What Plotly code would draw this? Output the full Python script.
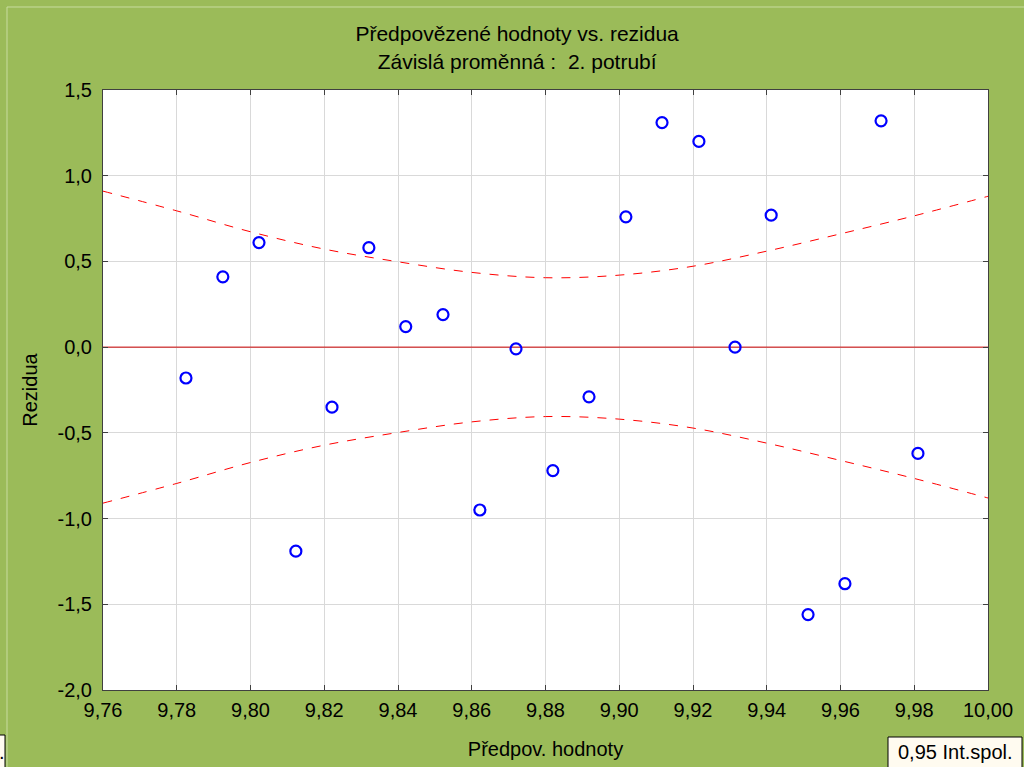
import plotly.graph_objects as go

# Data
pred = [9.7825, 9.7925, 9.8023, 9.8123, 9.8221, 9.8321, 9.8421, 9.8522, 9.8622, 9.8720,
        9.8820, 9.8918, 9.9018, 9.9116, 9.9216, 9.9314, 9.9412, 9.9512, 9.9612, 9.9710, 9.9810]
resid = [-0.18, 0.41, 0.61, -1.19, -0.35, 0.58, 0.12, 0.19, -0.95, -0.01,
         -0.72, -0.29, 0.76, 1.31, 1.20, 0.00, 0.77, -1.56, -1.38, 1.32, -0.62]

band_x = [9.76, 9.78, 9.80, 9.82, 9.84, 9.86, 9.88, 9.90, 9.92, 9.94, 9.96, 9.98, 10.00]
band_upper = [0.91, 0.795, 0.673, 0.572, 0.498, 0.436, 0.405, 0.42, 0.472, 0.56, 0.661, 0.766, 0.88]
band_lower = [-v for v in band_upper]

x_ticks = [9.76, 9.78, 9.80, 9.82, 9.84, 9.86, 9.88, 9.90, 9.92, 9.94, 9.96, 9.98, 10.00]
x_ticktext = ["9,76", "9,78", "9,80", "9,82", "9,84", "9,86", "9,88", "9,90", "9,92", "9,94", "9,96", "9,98", "10,00"]
y_ticks = [-2.0, -1.5, -1.0, -0.5, 0.0, 0.5, 1.0, 1.5]
y_ticktext = ["-2,0", "-1,5", "-1,0", "-0,5", "0,0", "0,5", "1,0", "1,5"]

title_lines = ["Předpovězené hodnoty vs. rezidua", "Závislá proměnná :  2. potrubí"]
x_title = "Předpov. hodnoty"
y_title = "Rezidua"
legend_text = "0,95 Int.spol."

GREEN = "#9BBB59"
FONT = "Liberation Sans, Arial, sans-serif"
FS = 20

fig = go.Figure()

fig.add_trace(go.Scatter(x=[9.76, 10.00], y=[0, 0], mode="lines",
                         line=dict(color="#CC0000", width=1), showlegend=False, hoverinfo="skip"))
fig.add_trace(go.Scatter(x=band_x, y=band_upper, mode="lines",
                         line=dict(color="#FF0000", width=1, dash="dash", shape="spline"),
                         showlegend=False))
fig.add_trace(go.Scatter(x=band_x, y=band_lower, mode="lines",
                         line=dict(color="#FF0000", width=1, dash="dash", shape="spline"),
                         showlegend=False))
fig.add_trace(go.Scatter(x=pred, y=resid, mode="markers",
                         marker=dict(symbol="circle-open", size=11, color="#0000FF",
                                     line=dict(width=2.2, color="#0000FF")),
                         showlegend=False))

axis_common = dict(showgrid=True, gridcolor="#D9D9D9", gridwidth=1, zeroline=False,
                   showline=True, linecolor="#404040", linewidth=1, mirror="ticks",
                   ticks="inside", ticklen=5, tickcolor="#404040",
                   tickfont=dict(family=FONT, size=FS, color="#000000"))

fig.update_layout(
    width=1024, height=767,
    paper_bgcolor=GREEN, plot_bgcolor="#FFFFFF",
    margin=dict(l=103, r=36, t=90, b=77),
    font=dict(family=FONT, size=FS, color="#000000"),
    title=dict(text="<br>".join(title_lines), x=0.505, xanchor="center", y=0.946, yanchor="top",
               font=dict(family=FONT, size=21, color="#000000")),
    xaxis=dict(range=[9.76, 10.00], tickvals=x_ticks, ticktext=x_ticktext, ticklabelstandoff=2,
               title=dict(text=x_title, standoff=21, font=dict(family=FONT, size=FS)),
               **axis_common),
    yaxis=dict(range=[-2.0, 1.5], tickvals=y_ticks, ticktext=y_ticktext, ticklabelstandoff=6,
               title=dict(text=y_title, standoff=14, font=dict(family=FONT, size=FS)),
               **axis_common),
    showlegend=False,
)

W, H = 885.0, 600.0
def px(x):
    return (x - 103) / W
def py(y):
    return (690 - y) / H

# frame lines
fig.add_shape(type="line", xref="paper", yref="paper", x0=px(7), x1=px(7), y0=py(7), y1=py(772),
              line=dict(color="#C8DCA0", width=1))
fig.add_shape(type="line", xref="paper", yref="paper", x0=px(7), x1=px(1030), y0=py(7), y1=py(7),
              line=dict(color="#C8DCA0", width=1))
# cut-off box at bottom left
fig.add_shape(type="rect", xref="paper", yref="paper", x0=px(-5), x1=px(5), y0=py(735), y1=py(775),
              fillcolor="#FFFBF0", line=dict(color="#000000", width=1))
fig.add_annotation(xref="paper", yref="paper", x=px(2), y=py(752), text=".",
                   showarrow=False, xanchor="center", yanchor="middle",
                   font=dict(family=FONT, size=FS, color="#000000"))
# legend box bottom right
fig.add_shape(type="rect", xref="paper", yref="paper", x0=px(888), x1=px(1022), y0=py(737), y1=py(775),
              fillcolor="#FFFBF0", line=dict(color="#000000", width=1))
fig.add_annotation(xref="paper", yref="paper", x=px(955), y=py(752), text=legend_text,
                   showarrow=False, xanchor="center", yanchor="middle",
                   font=dict(family=FONT, size=FS, color="#000000"))

fig.write_html("out.html", config={"displayModeBar": False},
               post_script="document.body.style.margin='0';document.body.style.overflow='hidden';")
